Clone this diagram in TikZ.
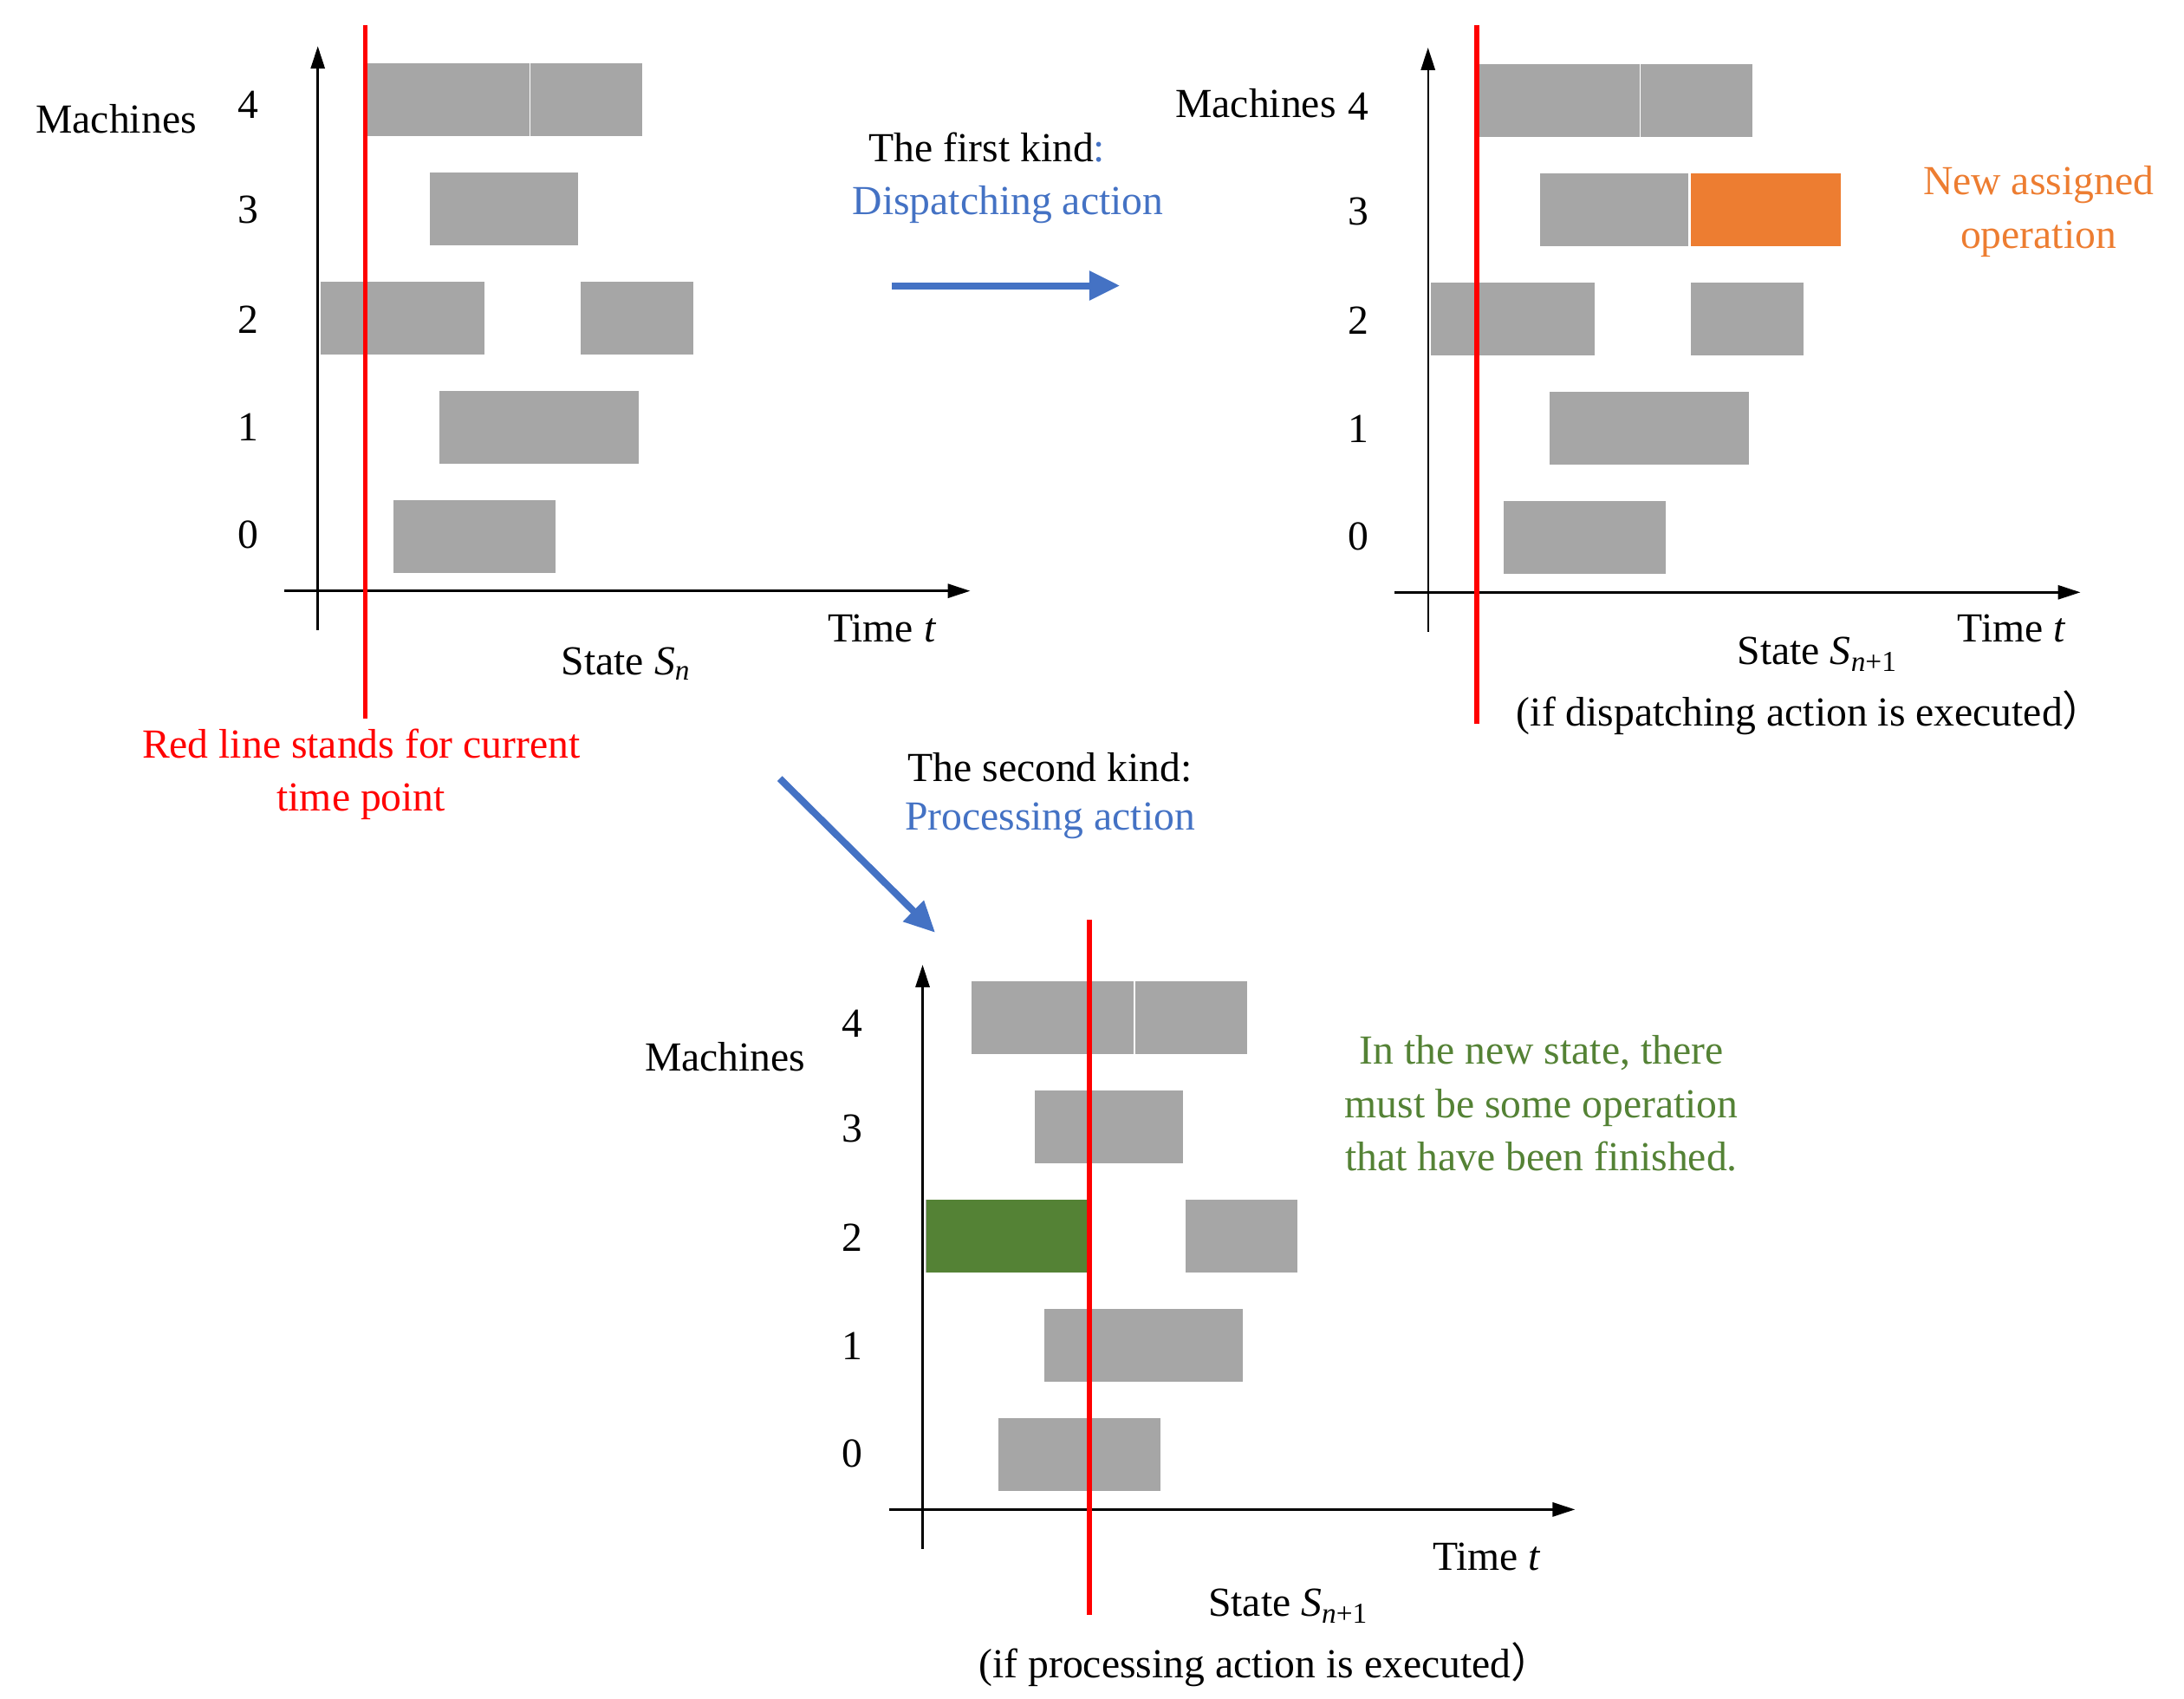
\documentclass[tikz,border=0pt]{standalone}
\usepackage{fontspec}
\setmainfont{Liberation Serif}
\newfontfamily\cjk{Noto Sans CJK SC}
\usetikzlibrary{arrows.meta}
\definecolor{barg}{HTML}{A6A6A6}
\definecolor{bl}{HTML}{4472C4}
\definecolor{orng}{HTML}{ED7D31}
\definecolor{grn}{HTML}{548235}
\begin{document}
\begin{tikzpicture}[x=1pt,y=-1pt,
  bar/.style={fill=barg,draw=none},
  ax/.style={line width=1.5pt,-{Triangle[length=16pt,width=10pt]}},
  red/.style={draw=red,line width=3.5pt},
  txt/.style={font=\fontsize{29.5}{34}\selectfont,inner sep=0pt},
  barrow/.style={draw=bl,line width=5pt,-{Triangle[length=22pt,width=20pt]}}]
\useasboundingbox (0,0) rectangle (1560,1213);
\newcommand\panel[2]{%
\begin{scope}[shift={(#1,#2)}]
 \fill[bar] (262,45) rectangle (378,97);
 \fill[bar] (379,45) rectangle (459,97);
 \fill[bar] (307,123) rectangle (413,175);
 \fill[bar] (229,201) rectangle (346,253);
 \fill[bar] (415,201) rectangle (495,253);
 \fill[bar] (314,279) rectangle (456,331);
 \fill[bar] (281,357) rectangle (397,409);
 \draw[ax] (227,450) -- (227,33);
 \draw[ax] (203,422) -- (693,422);
 \node[txt] at (177,75) {4};
 \node[txt] at (177,150) {3};
 \node[txt] at (177,228) {2};
 \node[txt] at (177,305) {1};
 \node[txt] at (177,382) {0};
\end{scope}}
\panel{0}{0}
\panel{793}{1}
\panel{432}{656}
\fill[orng] (1208,124) rectangle (1315,176);
\fill[grn] (662,857) rectangle (777,909);
\coordinate (r1a) at (261,18); \coordinate (r1b) at (261,513);
\coordinate (r2a) at (1055,18); \coordinate (r2b) at (1055,517);
\coordinate (r3a) at (778,657); \coordinate (r3b) at (778,1153);
\draw[red] (r1a)--(r1b); \draw[red] (r2a)--(r2b); \draw[red] (r3a)--(r3b);
\node[txt] (m1) at (83,85) {Machines};
\node[txt] (t1) at (630,449) {Time \textit{t}};
\node[txt] (s1) at (447,474) {State \textit{S\textsubscript{n}}};
\node[txt,text=red,align=center] (rl) at (258,553) {Red line stands for current\\[4pt]time point};
\node[txt] (m2) at (897,74) {Machines};
\node[txt] (t2) at (1437,449) {Time \textit{t}};
\node[txt] (s2) at (1298,467) {State \textit{S}\textsubscript{\textit{n}+1}};
\node[txt] (e2) at (1293,509) {(if dispatching action is executed{\cjk ）}};
\node[txt,text=orng,align=center] (na) at (1456,151) {New assigned\\[4pt]operation};
\node[txt] (m3) at (518,755) {Machines};
\node[txt] (t3) at (1062,1112) {Time \textit{t}};
\node[txt] (s3) at (920,1147) {State \textit{S}\textsubscript{\textit{n}+1}};
\node[txt] (e3) at (904,1189) {(if processing action is executed{\cjk ）}};
\node[txt,text=grn,align=center] (gt) at (1101,788) {In the new state, there\\[4pt]must be some operation\\[4pt]that have been finished.};
\node[txt] (k1) at (705,105) {The first kind\textcolor{bl}{:}};
\node[txt,text=bl] (d1) at (720,146) {Dispatching action};
\node[txt] (k2) at (750,548) {The second kind:};
\node[txt,text=bl] (p2) at (750,586) {Processing action};
\coordinate (a1s) at (637,204); \coordinate (a1e) at (800,204);
\coordinate (a2s) at (557,556); \coordinate (a2e) at (668,666);
\draw[barrow] (a1s)--(a1e);
\draw[barrow] (a2s)--(a2e);
\end{tikzpicture}
\end{document}
